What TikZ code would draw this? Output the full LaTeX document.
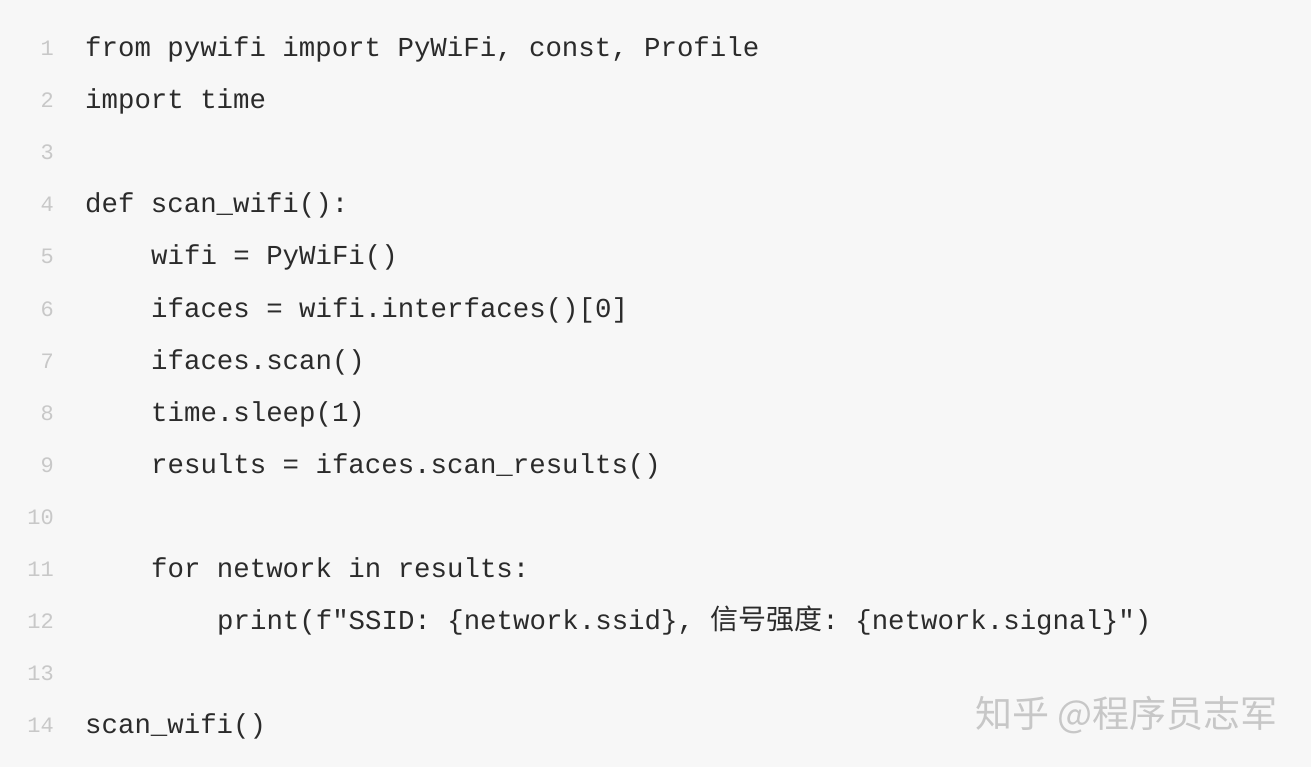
\documentclass[tikz,border=0pt]{standalone}
\usepackage{fontspec}
\setmonofont{Liberation Mono}
\newfontfamily\cjk{Noto Sans CJK SC}
\definecolor{bg}{HTML}{F7F7F7}
\definecolor{codec}{HTML}{2B2B2B}
\definecolor{numc}{HTML}{C8C8C8}
\begin{document}
\begin{tikzpicture}[x=1pt,y=-1pt,
  code/.style={anchor=base west,inner sep=0pt,text=codec,font=\ttfamily\fontsize{27.4}{28}\selectfont},
  num/.style={anchor=base east,inner sep=0pt,text=numc,font=\ttfamily\fontsize{22}{22}\selectfont}]
\fill[bg] (0,0) rectangle (1311,767);
\useasboundingbox (0,0) rectangle (1311,767);
\foreach \i in {1,...,14}{\node[num] (n\i) at (54,{56+(\i-1)*52}) {\i};}
\node[code] (l1) at (85,57) {from pywifi import PyWiFi, const, Profile};
\node[code] (l2) at (85,109) {import time};
\node[code] (l4) at (85,213) {def scan\_wifi():};
\node[code] (l5) at (151,265) {wifi = PyWiFi()};
\node[code] (l6) at (151,317) {ifaces = wifi.interfaces()[0]};
\node[code] (l7) at (151,369) {ifaces.scan()};
\node[code] (l8) at (151,421) {time.sleep(1)};
\node[code] (l9) at (151,473) {results = ifaces.scan\_results()};
\node[code] (l11) at (151,577) {for network in results:};
\node[code] (l12) at (217,629) {print(f"SSID: \{network.ssid\}, {\cjk\fontsize{28}{28}\selectfont 信号强度}: \{network.signal\}")};
\node[code] (l14) at (85,733) {scan\_wifi()};
\node[anchor=base east,inner sep=0pt,text=black!22,font=\cjk\fontsize{37}{37}\selectfont] (wm) at (1278,727) {知乎 @程序员志军};
\end{tikzpicture}
\end{document}
